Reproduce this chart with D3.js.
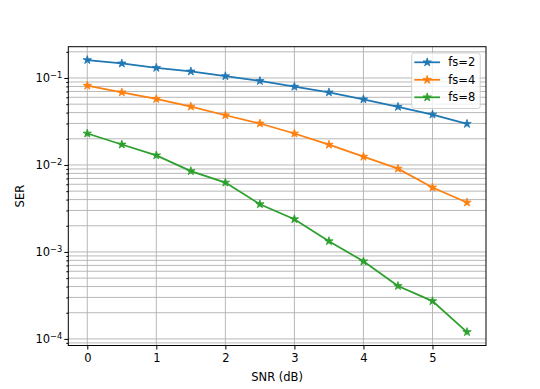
<!DOCTYPE html>
<html>
<head>
<meta charset="utf-8">
<script src="https://cdn.jsdelivr.net/npm/d3@7"></script>
<style>
body { margin: 0; background: #fff; }
text { font-family: "DejaVu Sans", sans-serif; }
</style>
</head>
<body>
<script>
//data
var snr = [0, 0.5, 1, 1.5, 2, 2.5, 3, 3.5, 4, 4.5, 5, 5.5];
var ser_fs2 = [0.161, 0.147, 0.131, 0.119, 0.105, 0.0924, 0.0795, 0.0684, 0.0569, 0.0466, 0.038, 0.0297];
var ser_fs4 = [0.0816, 0.0684, 0.0574, 0.0469, 0.0373, 0.030, 0.0230, 0.0171, 0.01245, 0.00907, 0.0055, 0.0037];
var ser_fs8 = [0.0230, 0.0172, 0.0129, 0.0085, 0.00627, 0.00354, 0.00238, 0.00133, 0.00078, 0.000406, 0.000272, 0.00012];
var series_names = ["fs=2", "fs=4", "fs=8"];
var series_colors = ["#1f77b4", "#ff7f0e", "#2ca02c"];
var x_ticks = [0, 1, 2, 3, 4, 5];
var y_major = [1e-4, 1e-3, 1e-2, 1e-1];
var y_exponents = ["\u22124", "\u22123", "\u22122", "\u22121"];

//layout
var width = 540,
    height = 389;
var plot_left = 68.3, plot_right = 486, plot_top = 46.7, plot_bottom = 345.5;
var font_size = 11.5;

var all_series = [ser_fs2, ser_fs4, ser_fs8];

var x = d3.scaleLinear().domain([-0.275, 5.775]).range([plot_left, plot_right]);
var y = d3.scaleLog().domain([8.4e-5, 0.229]).range([plot_bottom, plot_top]);

var svg = d3.select("body").append("svg")
    .attr("width", width)
    .attr("height", height);

// minor ticks 2..9 in each decade
var y_minor = [];
for (var p = -5; p <= 0; p++){
    for (var m = 2; m <= 9; m++){
        var v = m * Math.pow(10, p);
        if (v > y.domain()[0] && v < y.domain()[1])
            y_minor.push(v);
    }
}

var grid = svg.append("g").attr("class", "grid");

grid.selectAll("line.h")
    .data(y_minor.concat(y_major))
  .enter().append("line")
    .attr("x1", plot_left).attr("x2", plot_right)
    .attr("y1", function(d){ return y(d); })
    .attr("y2", function(d){ return y(d); })
    .attr("stroke", "#b0b0b0")
    .attr("stroke-width", 0.9);

grid.selectAll("line.v")
    .data(x_ticks)
  .enter().append("line")
    .attr("y1", plot_top).attr("y2", plot_bottom)
    .attr("x1", function(d){ return x(d); })
    .attr("x2", function(d){ return x(d); })
    .attr("stroke", "#b0b0b0")
    .attr("stroke-width", 0.9);

// axes
var x_axis = svg.append("g")
    .attr("transform", "translate(0," + plot_bottom + ")")
    .call(d3.axisBottom(x).tickValues(x_ticks).tickSize(4).tickPadding(4).tickFormat(d3.format("d")));
x_axis.select(".domain").remove();
x_axis.selectAll("text").attr("font-size", font_size).attr("fill", "#000").attr("font-family", "DejaVu Sans");

var y_axis = svg.append("g")
    .attr("transform", "translate(" + plot_left + ",0)")
    .call(d3.axisLeft(y).tickValues(y_major).tickSize(4).tickFormat(""));
y_axis.select(".domain").remove();

svg.append("g")
    .attr("transform", "translate(" + plot_left + ",0)")
    .call(d3.axisLeft(y).tickValues(y_minor).tickSize(2).tickFormat(""))
    .select(".domain").remove();

var y_labels = svg.selectAll("text.ylab")
    .data(y_major)
  .enter().append("text")
    .attr("class", "ylab")
    .attr("x", plot_left - 6)
    .attr("y", function(d){ return y(d); })
    .attr("dy", "0.35em")
    .attr("text-anchor", "end")
    .attr("font-size", font_size);
y_labels.append("tspan").text("10");
y_labels.append("tspan")
    .attr("dy", "-0.45em")
    .attr("font-size", font_size * 0.72)
    .text(function(d, i){ return y_exponents[i]; });

// spines
svg.append("rect")
    .attr("x", plot_left).attr("y", plot_top)
    .attr("width", plot_right - plot_left).attr("height", plot_bottom - plot_top)
    .attr("fill", "none")
    .attr("stroke", "#000")
    .attr("stroke-width", 1);

svg.append("text")
    .attr("x", (plot_left + plot_right) / 2)
    .attr("y", 381)
    .attr("text-anchor", "middle")
    .attr("font-size", font_size)
    .text("SNR (dB)");

svg.append("text")
    .attr("transform", "translate(24," + ((plot_top + plot_bottom) / 2) + ") rotate(-90)")
    .attr("text-anchor", "middle")
    .attr("font-size", font_size)
    .text("SER");

// series
var line = d3.line()
    .x(function(d, i){ return x(snr[i]); })
    .y(function(d){ return y(d); });

var star = d3.symbol().type(d3.symbolStar).size(22);

all_series.forEach(function(vals, k){
    var g = svg.append("g");
    g.append("path")
        .attr("d", line(vals))
        .attr("fill", "none")
        .attr("stroke", series_colors[k])
        .attr("stroke-width", 1.75);
    g.selectAll("path.mk")
        .data(vals)
      .enter().append("path")
        .attr("class", "mk")
        .attr("d", star)
        .attr("transform", function(d, i){ return "translate(" + x(snr[i]) + "," + y(d) + ")"; })
        .attr("fill", series_colors[k])
        .attr("stroke", series_colors[k])
        .attr("stroke-width", 0.8);
});

// legend
var leg = svg.append("g");
leg.append("rect")
    .attr("x", 411.7).attr("y", 53)
    .attr("width", 68.5).attr("height", 55.5)
    .attr("rx", 2.5)
    .attr("fill", "#fff")
    .attr("fill-opacity", 0.8)
    .attr("stroke", "#cccccc")
    .attr("stroke-width", 0.9);

series_names.forEach(function(name, k){
    var ly = 62.3 + k * 17.5;
    leg.append("line")
        .attr("x1", 414.3).attr("x2", 440)
        .attr("y1", ly).attr("y2", ly)
        .attr("stroke", series_colors[k])
        .attr("stroke-width", 1.75);
    leg.append("path")
        .attr("d", star)
        .attr("transform", "translate(427.2," + ly + ")")
        .attr("fill", series_colors[k])
        .attr("stroke", series_colors[k])
        .attr("stroke-width", 0.8);
    leg.append("text")
        .attr("x", 448.3)
        .attr("y", ly)
        .attr("dy", "0.35em")
        .attr("font-size", font_size)
        .text(name);
});
</script>
</body>
</html>
